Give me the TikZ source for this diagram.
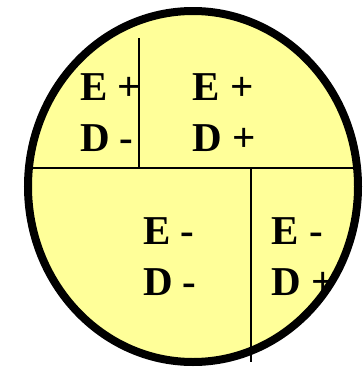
\documentclass[tikz,border=0pt]{standalone}
\usepackage{fontspec}
\setmainfont{Liberation Serif}
\definecolor{paleyellow}{HTML}{FFFF99}
\begin{document}
\begin{tikzpicture}[x=1pt,y=-1pt,
  lbl/.style={anchor=base west,inner sep=0pt,outer sep=0pt,font=\fontsize{41}{49}\selectfont\bfseries},
  divider/.style={line width=2pt,black}]
\useasboundingbox (0,0) rectangle (364,367);
\coordinate (c) at (193,186.5);
\fill[paleyellow] (c) ellipse [x radius=165,y radius=175.5];
\begin{scope}
\clip (c) ellipse [x radius=165,y radius=175.5];
\coordinate (hl) at (20,168);
\coordinate (hr) at (370,168);
\draw[divider] (hl) -- (hr);
\end{scope}
\coordinate (v1t) at (139,38);
\coordinate (v1b) at (139,168);
\draw[divider] (v1t) -- (v1b);
\node[lbl] (e1) at (80,100) {E +};
\node[lbl] (d1) at (80,151.7) {D -};
\node[lbl] (e2) at (192.5,100) {E +};
\node[lbl] (d2) at (192.5,151.7) {D +};
\node[lbl] (e3) at (143,244.5) {E -};
\node[lbl] (d3) at (143,295) {D -};
\node[lbl] (e4) at (271.5,244.5) {E -};
\node[lbl] (d4) at (271.5,295) {D +};
\draw[line width=8pt,black] (c) ellipse [x radius=165,y radius=175.5];
\coordinate (v2t) at (250.5,168);
\coordinate (v2b) at (250.5,361.5);
\draw[divider] (v2t) -- (v2b);
\end{tikzpicture}
\end{document}
